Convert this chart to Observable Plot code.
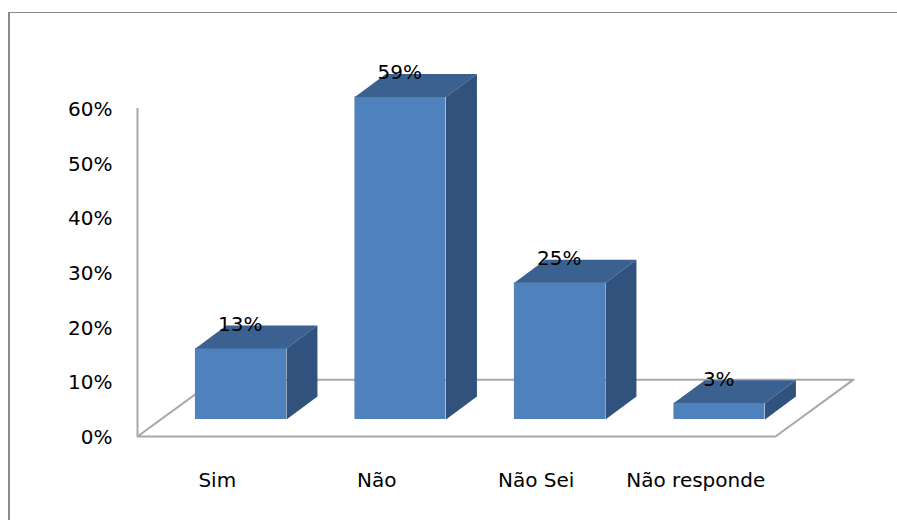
<!DOCTYPE html>
<html>
<head>
<meta charset="utf-8">
<script src="https://cdn.jsdelivr.net/npm/d3@7"></script>
<script src="https://cdn.jsdelivr.net/npm/@observablehq/plot@0.6"></script>
<style>
  html, body { margin: 0; padding: 0; background: #ffffff; }
  #wrap { position: relative; width: 897px; height: 520px; overflow: hidden; }
  #frame { position: absolute; left: 8px; top: 12px; width: 1000px; height: 600px;
           border-left: 2.5px solid #8a8a8a; border-top: 1.5px solid #8a8a8a; pointer-events: none; }
  #chart { position: absolute; left: 0; top: 0; }
</style>
</head>
<body>
<div id="wrap">
  <div id="chart"></div>
  <div id="frame"></div>
</div>
<script>
// ---- data ----
const categories = ["Sim", "Não", "Não Sei", "Não responde"];
const values = [13, 59, 25, 3];
const yTicks = [0, 10, 20, 30, 40, 50, 60];

// ---- 3D geometry (in scale units) ----
const BX = 0.219, BW = 0.571;   // bar front face offset/width within a category slot
const DX = 0.194, DY = 4.2;     // bar depth
const FDX = 0.489, FDY = 10.4;  // floor depth
const SHIFT_X = 23, SHIFT_Y = -17; // bars sit behind the front plane (pixels)

const bars = categories.map((c, i) => ({c, i, v: values[i]}));

const floor = [[0, 0], [categories.length, 0], [categories.length + FDX, FDY], [FDX, FDY], [0, 0]]
  .map(([x, y]) => ({x, y}));

const tops = bars.flatMap(b => {
  const x1 = b.i + BX, x2 = x1 + BW;
  return [[x1, b.v], [x2, b.v], [x2 + DX, b.v + DY], [x1 + DX, b.v + DY], [x1, b.v]]
    .map(([x, y]) => ({id: b.i, x, y}));
});
const sides = bars.flatMap(b => {
  const x2 = b.i + BX + BW;
  return [[x2, 0], [x2, b.v], [x2 + DX, b.v + DY], [x2 + DX, DY], [x2, 0]]
    .map(([x, y]) => ({id: b.i, x, y}));
});

const font = "DejaVu Sans";

const plot = Plot.plot({
  width: 897,
  height: 520,
  marginLeft: 137,
  marginRight: 122,
  marginTop: 108,
  marginBottom: 84,
  style: {fontFamily: font, fontSize: "20px", color: "#000", background: "transparent", overflow: "visible"},
  x: {type: "linear", domain: [0, categories.length], label: null},
  y: {type: "linear", domain: [0, 60], label: null},
  marks: [
    Plot.line(floor, {x: "x", y: "y", fill: "white", stroke: "#a8a8a8", strokeWidth: 2}),
    Plot.ruleX([0], {y1: d => 0, y2: d => 60, stroke: "#a8a8a8", strokeWidth: 2}),
    Plot.rect(bars, {x1: d => d.i + BX, x2: d => d.i + BX + BW, y1: d => 0, y2: "v",
                     dx: SHIFT_X, dy: SHIFT_Y, fill: "#4f81bd"}),
    Plot.line(tops, {x: "x", y: "y", z: "id", fill: "#3b6191", stroke: "none",
                     dx: SHIFT_X, dy: SHIFT_Y}),
    Plot.line(sides, {x: "x", y: "y", z: "id", fill: "#31527d", stroke: "none",
                      dx: SHIFT_X, dy: SHIFT_Y}),
    Plot.text(bars, {x: d => d.i + 0.5, y: "v", text: d => d.v + "%",
                     dx: SHIFT_X, dy: SHIFT_Y - 24, fontSize: 20, fill: "#000"}),
    Plot.axisY({ticks: yTicks, tickFormat: d => d + "%", tickSize: 0, tickPadding: 25,
                fontSize: 20, dy: 1, fill: "#000", label: null}),
    Plot.axisX({ticks: categories.map((c, i) => i + 0.5), tickFormat: d => categories[Math.floor(d)],
                tickSize: 0, tickPadding: 36, fontSize: 20, fill: "#000", label: null})
  ]
});
document.getElementById("chart").appendChild(plot);
</script>
</body>
</html>
